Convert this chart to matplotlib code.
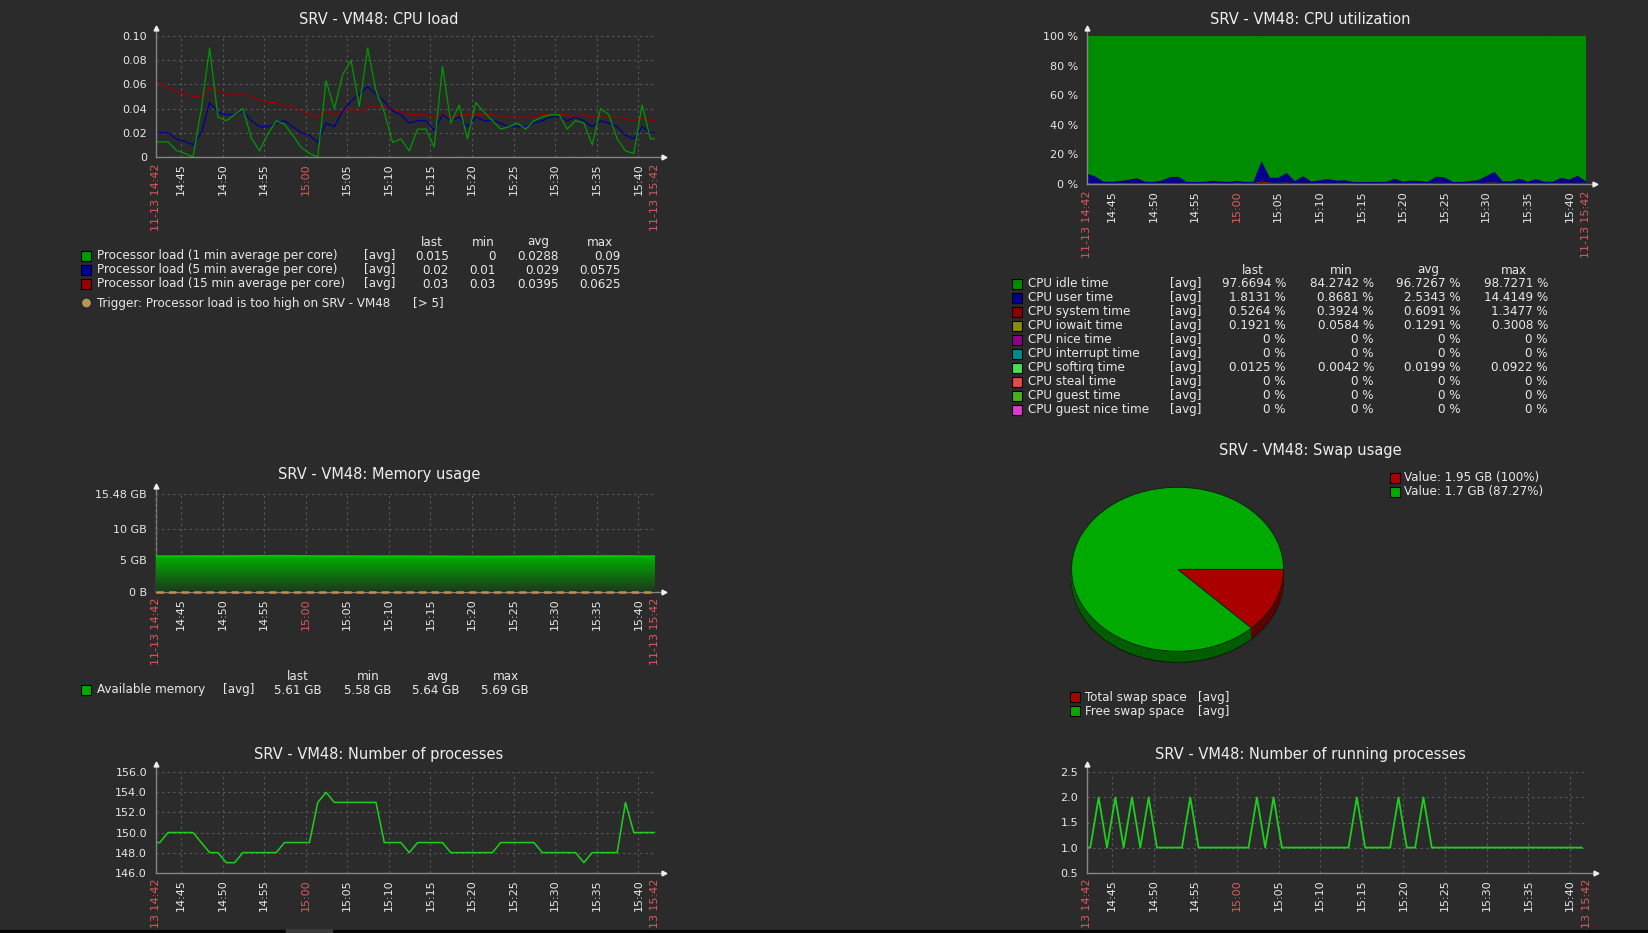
import matplotlib.pyplot as plt
import numpy as np
from matplotlib.patches import Rectangle, Ellipse
from matplotlib.colors import LinearSegmentedColormap

# ---- data -------------------------------------------------------------
# time ticks, minutes after 11-13 14:42
tick_pos = [0, 3, 8, 13, 18, 23, 28, 33, 38, 43, 48, 53, 58, 60]
tick_labels = ['11-13 14:42', '14:45', '14:50', '14:55', '15:00', '15:05', '15:10',
               '15:15', '15:20', '15:25', '15:30', '15:35', '15:40', '11-13 15:42']
red_labels = ['11-13 14:42', '15:00', '11-13 15:42']

# CPU load (first/last value = graph edges)
t_load = np.r_[0, np.arange(60) + 0.45, 60]
load_1 = [0.0125,
          0.0125, 0.0125, 0.0055, 0.003, 0.0, 0.040, 0.090, 0.033, 0.030, 0.035,
          0.040, 0.016, 0.005, 0.019, 0.030, 0.027, 0.018, 0.008, 0.003, 0.0,
          0.063, 0.040, 0.068, 0.080, 0.042, 0.090, 0.055, 0.037, 0.012, 0.015,
          0.005, 0.023, 0.023, 0.008, 0.075, 0.028, 0.043, 0.015, 0.045, 0.037,
          0.030, 0.023, 0.025, 0.028, 0.023, 0.030, 0.033, 0.035, 0.035, 0.023,
          0.030, 0.028, 0.010, 0.040, 0.035, 0.015, 0.005, 0.003, 0.043, 0.015,
          0.015]
load_5 = [0.020,
          0.020, 0.020, 0.015, 0.013, 0.010, 0.020, 0.045, 0.037, 0.035, 0.035,
          0.038, 0.030, 0.025, 0.025, 0.028, 0.030, 0.025, 0.020, 0.018, 0.012,
          0.028, 0.025, 0.038, 0.046, 0.052, 0.058, 0.052, 0.046, 0.038, 0.035,
          0.028, 0.030, 0.030, 0.022, 0.035, 0.030, 0.033, 0.025, 0.033, 0.030,
          0.030, 0.028, 0.025, 0.025, 0.025, 0.028, 0.030, 0.033, 0.033, 0.030,
          0.033, 0.030, 0.025, 0.030, 0.028, 0.025, 0.018, 0.015, 0.025, 0.020,
          0.020]
load_15 = [0.0625,
           0.061, 0.058, 0.054, 0.052, 0.050, 0.050, 0.057, 0.055, 0.052, 0.052,
           0.052, 0.050, 0.047, 0.045, 0.045, 0.042, 0.042, 0.038, 0.035, 0.033,
           0.038, 0.035, 0.038, 0.040, 0.037, 0.042, 0.042, 0.042, 0.040, 0.037,
           0.035, 0.035, 0.035, 0.033, 0.035, 0.033, 0.035, 0.035, 0.035, 0.035,
           0.035, 0.033, 0.033, 0.033, 0.033, 0.033, 0.035, 0.035, 0.035, 0.035,
           0.033, 0.035, 0.033, 0.033, 0.033, 0.033, 0.032, 0.030, 0.033, 0.030,
           0.030]
load_names = ['Processor load (1 min average per core)',
              'Processor load (5 min average per core)',
              'Processor load (15 min average per core)']
load_colors = ['#009900', '#000099', '#990000']
load_stats = [['0.015', '0', '0.0288', '0.09'],
              ['0.02', '0.01', '0.029', '0.0575'],
              ['0.03', '0.03', '0.0395', '0.0625']]

# CPU utilization, one sample per minute
t_util = np.arange(61)
cpu_user = [6.4, 4.4, 1.0, 1.0, 1.4, 2.1, 3.2, 1.0, 0.9, 1.7,
            3.9, 4.1, 0.9, 0.9, 0.9, 1.4, 1.2, 0.9, 1.4, 0.9,
            0.9, 13.8, 3.4, 3.4, 6.4, 1.4, 4.4, 1.0, 1.9, 2.6,
            1.7, 1.9, 0.9, 0.9, 0.9, 0.9, 0.9, 2.8, 1.0, 1.7,
            1.4, 1.0, 4.1, 3.7, 0.9, 0.9, 1.4, 1.9, 4.4, 7.1,
            1.2, 1.2, 2.8, 1.0, 2.6, 1.0, 1.0, 3.4, 2.3, 4.8, 1.0]
cpu_system = [0.52, 0.55, 0.48, 0.50, 0.53, 0.58, 0.62, 0.49, 0.47, 0.51,
              0.60, 0.63, 0.46, 0.45, 0.47, 0.52, 0.50, 0.46, 0.54, 0.47,
              0.48, 1.35, 0.70, 0.66, 0.82, 0.50, 0.71, 0.48, 0.55, 0.60,
              0.52, 0.54, 0.45, 0.44, 0.46, 0.45, 0.47, 0.58, 0.48, 0.52,
              0.50, 0.47, 0.69, 0.64, 0.45, 0.44, 0.50, 0.55, 0.72, 0.90,
              0.49, 0.50, 0.58, 0.47, 0.57, 0.46, 0.48, 0.62, 0.55, 0.66, 0.53]
cpu_iowait = [0.19, 0.12, 0.10, 0.08, 0.11, 0.14, 0.13, 0.09, 0.07, 0.12,
              0.15, 0.16, 0.08, 0.06, 0.09, 0.12, 0.10, 0.08, 0.13, 0.09,
              0.10, 0.30, 0.17, 0.14, 0.21, 0.11, 0.15, 0.09, 0.12, 0.14,
              0.12, 0.13, 0.08, 0.07, 0.09, 0.08, 0.10, 0.14, 0.09, 0.12,
              0.11, 0.10, 0.16, 0.15, 0.08, 0.07, 0.11, 0.13, 0.17, 0.22,
              0.10, 0.11, 0.14, 0.09, 0.13, 0.09, 0.10, 0.15, 0.12, 0.18, 0.19]
cpu_softirq = [0.01, 0.02, 0.01, 0.01, 0.02, 0.02, 0.03, 0.01, 0.01, 0.02,
               0.03, 0.02, 0.01, 0.01, 0.01, 0.02, 0.01, 0.01, 0.02, 0.01,
               0.01, 0.09, 0.03, 0.02, 0.04, 0.01, 0.03, 0.01, 0.02, 0.02,
               0.02, 0.02, 0.01, 0.00, 0.01, 0.01, 0.01, 0.02, 0.01, 0.02,
               0.01, 0.01, 0.03, 0.03, 0.01, 0.01, 0.02, 0.02, 0.03, 0.05,
               0.01, 0.01, 0.02, 0.01, 0.02, 0.01, 0.01, 0.03, 0.02, 0.03, 0.01]
cpu_idle = [93.0, 95.0, 98.4, 98.4, 98.0, 97.3, 96.2, 98.4, 98.6, 97.7,
            95.5, 95.3, 98.6, 98.6, 98.6, 98.0, 98.2, 98.6, 98.0, 98.6,
            98.6, 84.3, 96.0, 96.0, 93.0, 98.0, 95.0, 98.4, 97.5, 96.8,
            97.7, 97.5, 98.6, 98.6, 98.6, 98.6, 98.6, 96.6, 98.4, 97.7,
            98.0, 98.4, 95.3, 95.7, 98.6, 98.6, 98.0, 97.5, 95.0, 92.3,
            98.2, 98.2, 96.6, 98.4, 96.8, 98.4, 98.4, 96.0, 97.1, 94.6, 98.4]
util_names = ['CPU idle time', 'CPU user time', 'CPU system time', 'CPU iowait time',
              'CPU nice time', 'CPU interrupt time', 'CPU softirq time',
              'CPU steal time', 'CPU guest time', 'CPU guest nice time']
util_colors = ['#008c00', '#00008c', '#8c0000', '#8c8c00', '#8c008c',
               '#008c8c', '#4ddc4d', '#e04b4b', '#4caf1a', '#dd3bd0']
util_stats = [['97.6694 %', '84.2742 %', '96.7267 %', '98.7271 %'],
              ['1.8131 %', '0.8681 %', '2.5343 %', '14.4149 %'],
              ['0.5264 %', '0.3924 %', '0.6091 %', '1.3477 %'],
              ['0.1921 %', '0.0584 %', '0.1291 %', '0.3008 %'],
              ['0 %', '0 %', '0 %', '0 %'],
              ['0 %', '0 %', '0 %', '0 %'],
              ['0.0125 %', '0.0042 %', '0.0199 %', '0.0922 %'],
              ['0 %', '0 %', '0 %', '0 %'],
              ['0 %', '0 %', '0 %', '0 %'],
              ['0 %', '0 %', '0 %', '0 %']]

# memory, GB
t_mem = [0, 5, 10, 15, 20, 25, 30, 35, 40, 45, 50, 55, 60]
mem_avail = [5.63, 5.64, 5.66, 5.69, 5.65, 5.63, 5.62, 5.60, 5.58, 5.61, 5.64, 5.66, 5.61]
mem_stats = ['5.61 GB', '5.58 GB', '5.64 GB', '5.69 GB']

# swap
swap_total = 1.95
swap_free = 1.7
swap_free_pct = 87.27

# processes
t_proc = np.r_[0, np.arange(60) + 0.45, 60]
procs = [149,
         149, 150, 150, 150, 150, 149, 148, 148, 147, 147,
         148, 148, 148, 148, 148, 149, 149, 149, 149, 153,
         154, 153, 153, 153, 153, 153, 153, 149, 149, 149,
         148, 149, 149, 149, 149, 148, 148, 148, 148, 148,
         148, 149, 149, 149, 149, 149, 148, 148, 148, 148,
         148, 147, 148, 148, 148, 148, 153, 150, 150, 150,
         150]
t_run = np.r_[0, np.arange(60) + 0.4]
running = [1,
           1, 2, 1, 2, 1, 2, 1, 2, 1, 1,
           1, 1, 2, 1, 1, 1, 1, 1, 1, 1,
           2, 1, 2, 1, 1, 1, 1, 1, 1, 1,
           1, 1, 2, 1, 1, 1, 1, 2, 1, 1,
           2, 1, 1, 1, 1, 1, 1, 1, 1, 1,
           1, 1, 1, 1, 1, 1, 1, 1, 1, 1]

# ---- style -------------------------------------------------------------
W, H = 1648, 933
BG = '#2b2b2b'
TXT = '#e8e8e8'
RED_TXT = '#e05a5a'
GRID = '#5a5a5a'
AXIS = '#858585'
LEG = dict(fontsize=9.5, fontstretch='condensed', color=TXT, va='center')

plt.rcParams['font.family'] = 'DejaVu Sans'

fig = plt.figure(figsize=(W / 100, H / 100), dpi=100, facecolor=BG)
ov = fig.add_axes([0, 0, 1, 1], zorder=10)
ov.set_xlim(0, W)
ov.set_ylim(H, 0)
ov.axis('off')


def px_rect(x0, y0, x1, y1):
    return [x0 / W, 1 - y1 / H, (x1 - x0) / W, (y1 - y0) / H]


def panel(box, title, title_xy, yticks, ylabels):
    x0, y0, x1, y1 = box
    ax = fig.add_axes(px_rect(*box))
    ax.set_facecolor('none')
    for s in ax.spines.values():
        s.set_visible(False)
    ax.set_xlim(0, 60)
    ax.set_ylim(yticks[0], yticks[-1])
    ax.set_xticks(tick_pos, tick_labels)
    ax.set_yticks(yticks, ylabels)
    ax.tick_params(axis='x', length=0, pad=4.5, labelsize=8, labelrotation=90, colors=TXT)
    ax.tick_params(axis='y', length=0, pad=6.5, labelsize=8, colors=TXT)
    for lab in ax.get_xticklabels():
        if lab.get_text() in red_labels:
            lab.set_color(RED_TXT)
    ax.grid(True, color=GRID, ls=(0, (2, 3)), lw=0.8)
    ax.set_axisbelow(True)
    ov.plot([x0, x0], [y1, y0 - 8], color=AXIS, lw=1)
    ov.plot([x0, x1 + 9], [y1, y1], color=AXIS, lw=1)
    ov.plot(x0, y0 - 8, marker='^', ms=3.5, color='#f0f0f0')
    ov.plot(x1 + 9, y1, marker='>', ms=3.5, color='#f0f0f0')
    ov.text(title_xy[0], title_xy[1], title, ha='center', va='center',
            fontsize=10.5, color='#eeeeee')
    return ax


def legend(x_sq, x_txt, x_avg, col_right, col_head, y_head, rows, names, colors, stats):
    for head, xh in zip(['last', 'min', 'avg', 'max'], col_head):
        ov.text(xh, y_head, head, ha='center', **LEG)
    for y, name, c, st in zip(rows, names, colors, stats):
        ov.add_patch(Rectangle((x_sq, y - 5), 10, 10, fc=c, ec='black', lw=0.8))
        ov.text(x_txt, y, name, ha='left', **LEG)
        ov.text(x_avg, y, '[avg]', ha='left', **LEG)
        for v, xr in zip(st, col_right):
            ov.text(xr, y, v, ha='right', **LEG)


# ---- CPU load ------------------------------------------------------------
ax = panel((156, 36, 655, 157), 'SRV - VM48: CPU load', (379, 19),
           [0, 0.02, 0.04, 0.06, 0.08, 0.10], ['0', '0.02', '0.04', '0.06', '0.08', '0.10'])
for vals, c in zip([load_15, load_5, load_1], load_colors[::-1]):
    ax.plot(t_load, vals, color=c, lw=0.9)
legend(81, 97, 364, [449, 496, 559, 621], [432, 483, 538, 600], 242,
       [256, 270, 284], load_names, load_colors, load_stats)
ov.add_patch(Ellipse((86.5, 303), 10, 10, fc='#b39658', ec='#202020', lw=0.8))
ov.text(97, 303, 'Trigger: Processor load is too high on SRV - VM48', ha='left', **LEG)
ov.text(413, 303, '[> 5]', ha='left', **LEG)

# ---- CPU utilization -------------------------------------------------------
ax = panel((1087, 36, 1586, 184), 'SRV - VM48: CPU utilization', (1310, 19),
           [0, 20, 40, 60, 80, 100], ['0 %', '20 %', '40 %', '60 %', '80 %', '100 %'])
ax.stackplot(t_util, cpu_softirq, cpu_system, cpu_iowait, cpu_user, cpu_idle,
             colors=[util_colors[6], util_colors[2], util_colors[3], util_colors[1],
                     util_colors[0]], lw=0)
ax.set_ylim(0, 100)
legend(1012, 1028, 1170, [1286, 1374, 1461, 1548], [1253, 1341, 1428, 1514], 270,
       [283.7 + 14 * i for i in range(10)], util_names, util_colors, util_stats)

# ---- Memory usage -------------------------------------------------------
ax = panel((156, 494, 655, 591.7), 'SRV - VM48: Memory usage', (379, 474),
           [0, 5, 10, 15.48], ['0 B', '5 GB', '10 GB', '15.48 GB'])
ax.set_zorder(11)
poly = ax.fill_between(t_mem, 0, mem_avail, color='none', lw=0)
cmap = LinearSegmentedColormap.from_list('memg', ['#1d381d', '#00b000'])
img = ax.imshow(np.linspace(0, 1, 256).reshape(-1, 1), extent=[0, 60, 0, max(mem_avail)],
                aspect='auto', cmap=cmap, origin='lower', zorder=1)
img.set_clip_path(poly.get_paths()[0], transform=ax.transData)
ax.plot(t_mem, mem_avail, color='#00c800', lw=1.3, zorder=2)
ax.axhline(0, color='#c98a4b', lw=1.8, ls=(0, (3, 2)), zorder=3, clip_on=False)
ax.set_xlim(0, 60)
ax.set_ylim(0, 15.48)
legend(81, 97, 223, [322, 391, 460, 529], [298, 368, 437, 506], 676.7,
       [690], ['Available memory'], ['#00aa00'], [mem_stats])

# ---- Swap usage (pie) ------------------------------------------------------
ov.text(1310, 451, 'SRV - VM48: Swap usage', ha='center', va='center',
        fontsize=10.5, color='#eeeeee')
depth = 11 / 82
pax = fig.add_axes(px_rect(1071.6, 487.3, 1283.6, 651.3 + 11))
swap_vals = [100 - swap_free_pct, swap_free_pct]
for i, d in enumerate(np.linspace(depth, 0, 14)[:-1]):
    pax.pie(swap_vals, colors=['#5e0000', '#005e00'], startangle=0, counterclock=False,
            center=(0, -d), wedgeprops=dict(lw=0.7 if i == 0 else 0, edgecolor='#0a1a0a'))
pax.pie(swap_vals, colors=['#aa0000', '#00aa00'], startangle=0, counterclock=False,
        center=(0, 0), wedgeprops=dict(edgecolor='#0d200d', lw=0.6))
pax.set_aspect('auto')
pax.set_xlim(-1, 1)
pax.set_ylim(-1 - depth, 1)
pax.axis('off')

for y, c, txt in zip([477.7, 492], ['#aa0000', '#00aa00'],
                     [f'Value: {swap_total} GB (100%)',
                      f'Value: {swap_free} GB ({swap_free_pct}%)']):
    ov.add_patch(Rectangle((1390, y - 5), 10, 10, fc=c, ec='black', lw=0.8))
    ov.text(1404.5, y, txt, ha='left', **LEG)
for y, c, txt in zip([697, 711], ['#aa0000', '#00aa00'],
                     ['Total swap space', 'Free swap space']):
    ov.add_patch(Rectangle((1070, y - 5), 10, 10, fc=c, ec='black', lw=0.8))
    ov.text(1085, y, txt, ha='left', **LEG)
    ov.text(1198, y, '[avg]', ha='left', **LEG)

# ---- Number of processes ---------------------------------------------------
ax = panel((156, 772.3, 655, 872.7), 'SRV - VM48: Number of processes', (379, 755),
           [146, 148, 150, 152, 154, 156], ['146.0', '148.0', '150.0', '152.0', '154.0', '156.0'])
ax.plot(t_proc, procs, color='#1ecf1e', lw=1.1)

# ---- Number of running processes -------------------------------------------
ax = panel((1087, 772.3, 1586.7, 872.7), 'SRV - VM48: Number of running processes',
           (1310, 755), [0.5, 1.0, 1.5, 2.0, 2.5], ['0.5', '1.0', '1.5', '2.0', '2.5'])
ax.plot(t_run, running, color='#1ecf1e', lw=1.3)

# bottom strip of the page
ov.add_patch(Rectangle((0, 930), W, 4, color='#050505'))
ov.add_patch(Rectangle((286, 929), 46, 5, color='#3a3a3a'))

fig.savefig('out.png', dpi=100, facecolor=BG)
